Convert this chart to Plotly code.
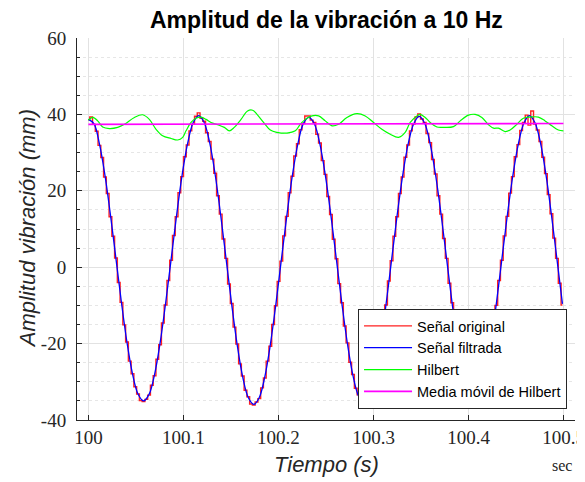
import plotly.graph_objects as go

# ---------------- data ----------------
t_start = 100.0
red_dt = 0.0029      # sample step of the original signal (s)
blue_dt = 0.0058     # sample step of the filtered signal (s)

senal_original = [
    38.6, 39.3, 37.4, 35.6, 31.9, 28.7, 23.6, 19.3, 13.2, 8.1,
    2.4, -4.0, -9.2, -15.1, -19.6, -24.6, -27.9, -31.3, -33.2, -34.9,
    -35.2, -34.6, -33.5, -30.9, -28.4, -24.1, -20.3, -14.6, -9.9, -3.5,
    1.8, 8.3, 13.2, 19.5, 23.7, 28.9, 32.0, 35.7, 37.4, 39.5,
    40.4, 39.0, 38.2, 35.2, 32.9, 28.3, 24.6, 18.7, 13.9, 7.4,
    2.3, -4.4, -9.5, -15.7, -20.1, -25.3, -28.5, -32.2, -33.9, -35.8,
    -36.1, -35.3, -34.4, -31.6, -29.0, -24.6, -20.7, -15.0, -10.1, -3.7,
    1.6, 8.2, 13.3, 19.5, 23.8, 29.1, 32.3, 36.0, 37.6, 39.6,
    39.6, 38.5, 37.9, 34.8, 32.5, 27.9, 24.3, 18.5, 13.8, 7.3,
    2.2, -4.3, -9.3, -15.4, -19.8, -24.9, -28.1, -31.7, -33.4, -35.3,
    -35.4, -34.8, -33.9, -31.1, -28.6, -24.2, -20.3, -14.7, -9.9, -3.6,
    1.7, 8.1, 13.2, 19.3, 23.6, 28.8, 32.0, 35.7, 37.5, 39.3,
    40.1, 38.8, 37.9, 35.0, 32.6, 28.2, 24.4, 18.7, 13.9, 7.5,
    2.3, -4.2, -9.3, -15.3, -19.8, -24.9, -28.1, -31.7, -33.4, -35.3,
    -35.5, -34.7, -34.0, -31.0, -28.7, -24.1, -20.4, -14.6, -10.0, -3.5,
    1.8, 8.2, 13.3, 19.4, 23.7, 28.9, 32.1, 35.8, 37.9, 39.8,
    37.2, 40.9, 37.5, 35.9, 32.9, 28.8, 24.5, 19.0, 14.0, 7.6,
    2.3, -4.2, -9.9,
]

senal_filtrada = [
    38.7, 37.6, 32.3, 24.1, 13.7, 2.2, -9.3, -19.7, -27.9, -33.2,
    -35.0, -33.3, -28.1, -19.9, -9.5, 2.0, 13.6, 24.1, 32.4, 37.8,
    39.7, 37.9, 32.6, 24.2, 13.6, 1.9, -9.8, -20.4, -28.8, -34.1,
    -35.9, -34.1, -28.7, -20.3, -9.8, 1.9, 13.5, 24.0, 32.3, 37.6,
    39.2, 37.5, 32.2, 23.9, 13.5, 1.9, -9.7, -20.1, -28.4, -33.7,
    -35.5, -33.7, -28.4, -20.1, -9.7, 1.9, 13.5, 23.9, 32.2, 37.5,
    39.5, 37.7, 32.3, 24.0, 13.6, 2.0, -9.6, -20.0, -28.3, -33.7,
    -35.5, -33.7, -28.3, -20.0, -9.6, 2.0, 13.6, 24.0, 32.3, 37.7,
    39.7, 37.9, 32.6, 24.3, 13.7, 2.1, -9.6,
]

hilbert_t = [
    100.0000, 100.0011, 100.0045, 100.0098, 100.0150, 100.0221, 100.0308, 100.0379,
    100.0484, 100.0571, 100.0641, 100.0712, 100.0781, 100.0870, 100.0939, 100.0992,
    100.1027, 100.1080, 100.1132, 100.1185, 100.1238, 100.1290, 100.1360, 100.1430,
    100.1483, 100.1535, 100.1606, 100.1675, 100.1728, 100.1774, 100.1843, 100.1914,
    100.1984, 100.2089, 100.2177, 100.2229, 100.2282, 100.2352, 100.2422, 100.2492,
    100.2563, 100.2632, 100.2720, 100.2825, 100.2913, 100.3000, 100.3088, 100.3176,
    100.3263, 100.3333, 100.3386, 100.3456, 100.3491, 100.3544, 100.3596, 100.3667,
    100.3736, 100.3841, 100.3912, 100.3999, 100.4069, 100.4140, 100.4209, 100.4262,
    100.4314, 100.4385, 100.4437, 100.4508, 100.4577, 100.4648, 100.4735, 100.4805,
    100.4876, 100.4945, 100.4998,
]
hilbert_v = [
    38.5, 38.7, 39.2, 38.3, 36.7, 36.3, 36.6, 37.4,
    39.2, 39.9, 38.7, 36.1, 34.4, 33.7, 33.3, 34.0,
    35.7, 37.9, 39.0, 39.3, 38.7, 37.9, 37.3, 36.6,
    35.7, 36.6, 38.7, 40.9, 41.1, 40.0, 37.9, 35.9,
    35.3, 35.1, 35.7, 37.4, 38.7, 39.6, 39.6, 38.3,
    37.0, 37.4, 39.2, 40.2, 39.6, 37.9, 36.1, 34.8,
    34.0, 35.3, 37.9, 39.6, 40.0, 39.2, 37.9, 36.7,
    36.6, 36.8, 38.3, 39.8, 40.0, 39.2, 37.3, 36.4,
    36.4, 35.5, 35.9, 37.4, 39.0, 39.3, 39.3, 38.3,
    37.0, 35.9, 35.7,
]

media_t = [100.0, 100.25, 100.4998]
media_v = [37.4, 37.5, 37.6]

x_ticks = [100.0, 100.1, 100.2, 100.3, 100.4, 100.5]
x_ticklabels = ["100", "100.1", "100.2", "100.3", "100.4", "100.5"]
y_ticks = [-40, -20, 0, 20, 40, 60]
y_ticklabels = ["-40", "-20", "0", "20", "40", "60"]

series_names = ["Señal original", "Señal filtrada", "Hilbert", "Media móvil de Hilbert"]

# ---------------- figure ----------------
SANS = "Liberation Sans, Arial, sans-serif"
SERIF = "Liberation Serif, Times New Roman, serif"
AX = "#262626"

fig = go.Figure()
fig.add_trace(go.Scatter(x0=t_start, dx=red_dt, y=senal_original, mode="lines",
                         line=dict(color="#ff2020", width=1.4, shape="hvh"),
                         name=series_names[0]))
fig.add_trace(go.Scatter(x0=t_start, dx=blue_dt, y=senal_filtrada, mode="lines",
                         line=dict(color="#0000ff", width=1.3, shape="spline"),
                         name=series_names[1]))
fig.add_trace(go.Scatter(x=hilbert_t, y=hilbert_v, mode="lines",
                         line=dict(color="#00ff00", width=1.2, shape="spline"),
                         name=series_names[2]))
fig.add_trace(go.Scatter(x=media_t, y=media_v, mode="lines",
                         line=dict(color="#ff00ff", width=1.6),
                         name=series_names[3]))

# the page body has an 8 px margin, so the figure is offset by 8 px
fig.update_layout(
    template="none",
    width=577, height=474,
    margin=dict(l=69, r=10, t=30, b=62, autoexpand=False),
    paper_bgcolor="white", plot_bgcolor="white",
    legend=dict(x=0.984, y=0.029, xanchor="right", yanchor="bottom",
                bordercolor=AX, borderwidth=1, bgcolor="white",
                font=dict(family=SANS, size=14.5, color="black"),
                itemwidth=48, tracegroupgap=0),
)

fig.update_xaxes(range=[99.988, 100.512], tickmode="array", tickvals=x_ticks,
                 ticktext=x_ticklabels, ticks="inside", ticklen=5, tickcolor=AX,
                 showline=True, linecolor=AX, linewidth=1, mirror=False,
                 showgrid=True, gridcolor="#e2e2e2", gridwidth=1, zeroline=False,
                 automargin=False,
                 tickfont=dict(family=SERIF, size=19, color=AX))
fig.update_yaxes(range=[-40, 60], tickmode="array", tickvals=y_ticks,
                 ticktext=y_ticklabels, ticks="inside", ticklen=5, tickcolor=AX,
                 showline=True, linecolor=AX, linewidth=1, mirror=False,
                 showgrid=True, gridcolor="#e2e2e2", gridwidth=1, zeroline=False,
                 automargin=False,
                 tickfont=dict(family=SERIF, size=19, color=AX),
                 ticklabelstandoff=6,
                 minor=dict(tickmode="linear", tick0=0, dtick=5, ticks="inside",
                            ticklen=3, tickcolor=AX, showgrid=True,
                            griddash="dot", gridcolor="#e6e6e6"))

fig.add_annotation(text="<b>Amplitud de la vibración a 10 Hz</b>", xref="paper", yref="paper",
                   x=0.5, y=1.046, xanchor="center", yanchor="middle", showarrow=False,
                   font=dict(family=SANS, size=23, color="black"))
fig.add_annotation(text="<i>Amplitud vibración (mm)</i>", xref="paper", yref="paper",
                   x=-0.1, y=0.5, xanchor="center", yanchor="middle", textangle=-90,
                   showarrow=False, font=dict(family=SANS, size=22, color=AX))
fig.add_annotation(text="<i>Tiempo (s)</i>", xref="paper", yref="paper",
                   x=0.5, y=-0.116, xanchor="center", yanchor="middle",
                   showarrow=False, font=dict(family=SANS, size=22, color=AX))
fig.add_annotation(text="sec", xref="paper", yref="paper",
                   x=0.974, y=-0.12, xanchor="center", yanchor="middle",
                   showarrow=False, font=dict(family=SERIF, size=16, color=AX))

fig.write_html("out.html")
